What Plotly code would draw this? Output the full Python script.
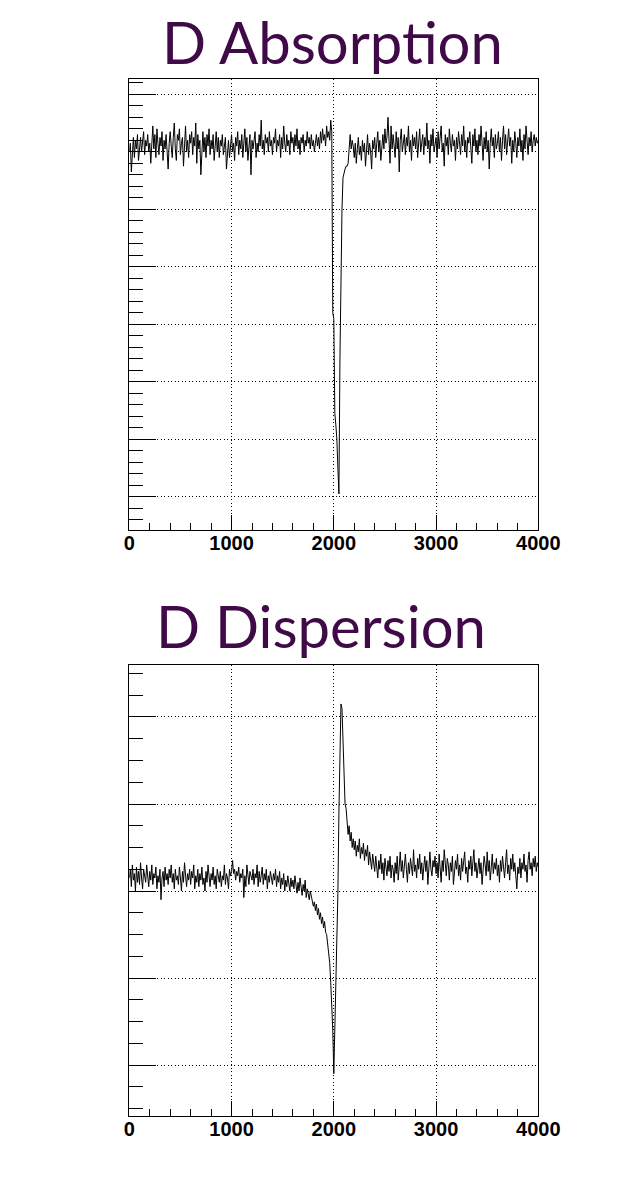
import numpy as np
import plotly.graph_objects as go

# x positions (channel), step 10 from 0 to 4000
x_vals = list(range(0, 4001, 10))

# Absorption signal (arbitrary units, no axis labels in the original)
absorption = [
    0, 3, -7, 2, 5, -2, 4, 1, 6, -3, 2, 5, 0, 3, 7, -1, 4, 2, 6, 0,
    3, -4, 5, 9, 1, 6, -2, 8, 3, -1, 5, 2, 7, -3, 4, 1, 6, 0, -6, 3,
    7, 2, -2, 5, 10, 1, -3, 6, 4, 8, -1, 3, 5, -5, 2, 9, 0, 4, -2, 6,
    3, 7, -1, 5, 2, 10, -4, 6, 1, 4, -8, 3, 7, 0, 5, -2, 6, 2, 8, -1,
    4, 1, 6, -3, 3, 7, 0, 5, -2, 4, 2, 6, -1, 3, 5, -6, 1, 4, -2, 3,
    6, 0, 3, -3, 5, 2, 7, -1, 4, 1, 6, -2, 3, 8, 0, 5, -3, 2, 6, -8,
    4, 1, 5, 7, -2, 3, 0, 6, 2, 11, 1, 4, -1, 6, 3, 5, 0, 7, 2, 4,
    -1, 5, 3, 8, 0, 4, 2, 6, -2, 5, 1, 9, 3, 0, 6, 2, 4, -1, 7, 3,
    5, 0, 6, 2, 8, 1, 4, -1, 5, 3, 6, 0, 4, 2, 7, 3, 5, 1, 6, 2,
    4, 0, 3, 6, 2, 5, 1, 7, 3, 8, 4, 6, 2, 9, 5, 7, 4, 11, 7, -56,
    -58, -91, -95, -100, -110, -119, -72, -42, -20, -9, -7, -6, -5, -5, -4, 3, 6, 1, 4, 2,
    -2, 3, -4, 1, 5, -1, 2, -3, 4, 0, 3, -5, 2, 6, -1, 3, 0, -6, 4, 1,
    5, -2, 3, 7, 0, 4, -3, 2, 6, 1, 8, 3, 5, 12, 2, -4, 9, 1, 6, 3,
    -2, 7, 1, 5, -7, 4, 8, 0, 3, 6, -1, 5, 2, 9, 0, 4, -3, 6, 2, 5,
    1, 7, -2, 4, 8, 0, 3, 6, -1, 5, 2, 10, 1, 4, -4, 6, 2, 8, 0, 3,
    5, -2, 7, 1, 4, 9, 0, 3, -5, 6, 2, 5, -1, 8, 3, 0, 6, 2, 4, -3,
    5, 1, 7, 3, -1, 6, 2, 9, 0, 4, -2, 5, 3, 7, 1, -4, 6, 2, 8, 0,
    4, -1, 6, 2, 9, 3, -3, 5, 1, 7, 0, 4, -6, 3, 8, 2, 5, -2, 6, 1,
    3, 7, 0, 5, -3, 4, 9, 1, 6, -1, 3, 8, 2, 5, -4, 4, 0, 7, 3, -2,
    5, 2, 8, 0, 4, -3, 6, 1, 9, 3, -1, 5, 2, 7, 0, 4, 6, 2, 5, 3,
    4,
]

# Dispersion signal (arbitrary units)
dispersion = [
    6, 10, 2, 12, 5, 8, 0, 11, 4, 9, 3, 13, 6, 1, 10, 7, 4, 12, 8, 2,
    9, 5, 12, 3, 8, 6, 11, 1, 7, 4, 10, -4, 6, 9, 2, 11, 5, 8, 3, 10,
    6, 12, 4, 8, 1, 10, 5, 7, 3, 11, 6, 0, 9, 4, 13, 7, 2, 8, 5, 10,
    3, 9, 6, 12, 1, 7, 4, 10, 2, 8, 5, 11, 3, 6, 0, 9, 4, 12, 7, 2,
    8, 5, 11, 3, 7, 1, 10, 6, 4, 9, 2, 7, 5, 12, 3, 8, 6, 1, 10, 7,
    9, 14, 8, 10, 5, 9, 7, 11, 4, 8, 6, 10, -3, 7, 2, 12, 6, 3, 9, 7,
    5, 10, 3, 8, 6, 12, 2, 9, 4, 7, 11, 3, 8, 5, 10, 1, 7, 4, 9, 6,
    3, 8, 5, 10, 2, 7, 4, 9, 1, 6, 3, 8, 0, 5, 2, 7, 4, 0, 6, 2,
    5, 1, 7, 3, -1, 4, 0, 6, 2, -2, 3, 0, 5, -3, 1, -1, -4, 0, -3, -5,
    -7, -5, -9, -6, -11, -8, -13, -10, -15, -12, -17, -14, -19, -20, -24, -28, -33, -42, -53, -64,
    -84, -64, -36, -16, -1, 36, 74, 86, 84, 66, 46, 40, 38, 33, 26, 30, 23, 27, 20, 24,
    19, 23, 16, 21, 18, 24, 15, 20, 17, 22, 14, 19, 16, 21, 12, 18, 15, 10, 17, 13,
    9, 16, 12, 6, 14, 10, 17, 8, 13, 5, 15, 11, 7, 14, 9, 16, 6, 12, 10, 4,
    13, 8, 16, 5, 11, 18, 9, 14, 6, 12, 17, 10, 4, 13, 8, 15, 11, 7, 19, 9,
    12, 6, 15, 10, 17, 8, 13, 5, 11, 16, 9, 14, 3, 12, 18, 10, 7, 14, 11, 16,
    8, 13, 6, 17, 10, 4, 14, 9, 19, 11, 7, 15, 12, 5, 13, 9, 16, 3, 11, 14,
    10, 17, 7, 12, 5, 15, 9, 13, 18, 8, 11, 4, 14, 10, 16, 7, 12, 19, 9, 13,
    6, 11, 15, 8, 13, 3, 10, 16, 12, 7, 18, 9, 14, 5, 11, 17, 8, 13, 10, 15,
    7, 12, 4, 14, 9, 16, 11, 6, 13, 19, 8, 12, 5, 15, 10, 17, 9, 13, 7, 1,
    11, 8, 15, 6, 13, 10, 17, 9, 12, 4, 14, 18, 10, 13, 7, 15, 11, 16, 9, 13,
    11,
]

titles = ["D Absorption", "D Dispersion"]
x_tick_vals = [0, 1000, 2000, 3000, 4000]
x_tick_text = ["0", "1000", "2000", "3000", "4000"]

W, H = 620, 1196
PLOT_L, PLOT_R = 129.3, 538.3
TOP_PANEL = (79.3, 530.0)
BOT_PANEL = (665.0, 1115.5)
GRID_DASH = "1px,2.5px"


def ydom(p):
    return [1 - p[1] / H, 1 - p[0] / H]


fig = go.Figure()
fig.add_trace(go.Scatter(x=x_vals, y=absorption, mode="lines",
                         line=dict(color="black", width=1), xaxis="x", yaxis="y",
                         showlegend=False))
fig.add_trace(go.Scatter(x=x_vals, y=dispersion, mode="lines",
                         line=dict(color="black", width=1), xaxis="x2", yaxis="y2",
                         showlegend=False))

xdom = [PLOT_L / W, PLOT_R / W]
xaxis_common = dict(
    domain=xdom, range=[0, 4000], tickmode="array", tickvals=x_tick_vals,
    ticktext=x_tick_text, ticks="inside", ticklen=15, tickcolor="black",
    tickwidth=1, showline=True, linecolor="black", linewidth=1, mirror=True,
    showgrid=True, gridcolor="black", griddash=GRID_DASH, gridwidth=1,
    zeroline=False, automargin=False, ticklabelstandoff=-5,
    tickfont=dict(family="Liberation Sans", size=20, color="black", weight="bold"),
    minor=dict(dtick=200, tick0=0, ticks="inside", ticklen=7, tickcolor="black",
               tickwidth=1, showgrid=False),
)

yaxis_common = dict(
    ticks="inside", ticklen=27, tickcolor="black", tickwidth=1,
    showticklabels=False, showline=True, linecolor="black", linewidth=1,
    mirror=True, showgrid=True, gridcolor="black", griddash=GRID_DASH,
    gridwidth=1, zeroline=False, automargin=False, tick0=0,
)

fig.update_layout(
    width=W, height=H, margin=dict(l=0, r=0, t=0, b=0, autoexpand=False),
    paper_bgcolor="white", plot_bgcolor="white",
    xaxis=dict(anchor="y", **xaxis_common),
    xaxis2=dict(anchor="y2", **xaxis_common),
    yaxis=dict(domain=ydom(TOP_PANEL), range=[-131.55, 25.22], anchor="x",
               dtick=20,
               minor=dict(dtick=4, tick0=0, ticks="inside", ticklen=14,
                          tickcolor="black", tickwidth=1, showgrid=False),
               **yaxis_common),
    yaxis2=dict(domain=ydom(BOT_PANEL), range=[-103.2, 103.9], anchor="x2",
                dtick=40,
                minor=dict(dtick=10, tick0=0, ticks="inside", ticklen=14,
                           tickcolor="black", tickwidth=1, showgrid=False),
                **yaxis_common),
    annotations=[
        dict(text=titles[0], x=332 / W, y=1 - 42 / H, xref="paper", yref="paper",
             xanchor="center", yanchor="middle", showarrow=False,
             font=dict(family="Lato", size=58, color="#3f0a47")),
        dict(text=titles[1], x=321 / W, y=1 - 625 / H, xref="paper", yref="paper",
             xanchor="center", yanchor="middle", showarrow=False,
             font=dict(family="Lato", size=58, color="#3f0a47")),
    ],
)

fig.write_html("out.html")
